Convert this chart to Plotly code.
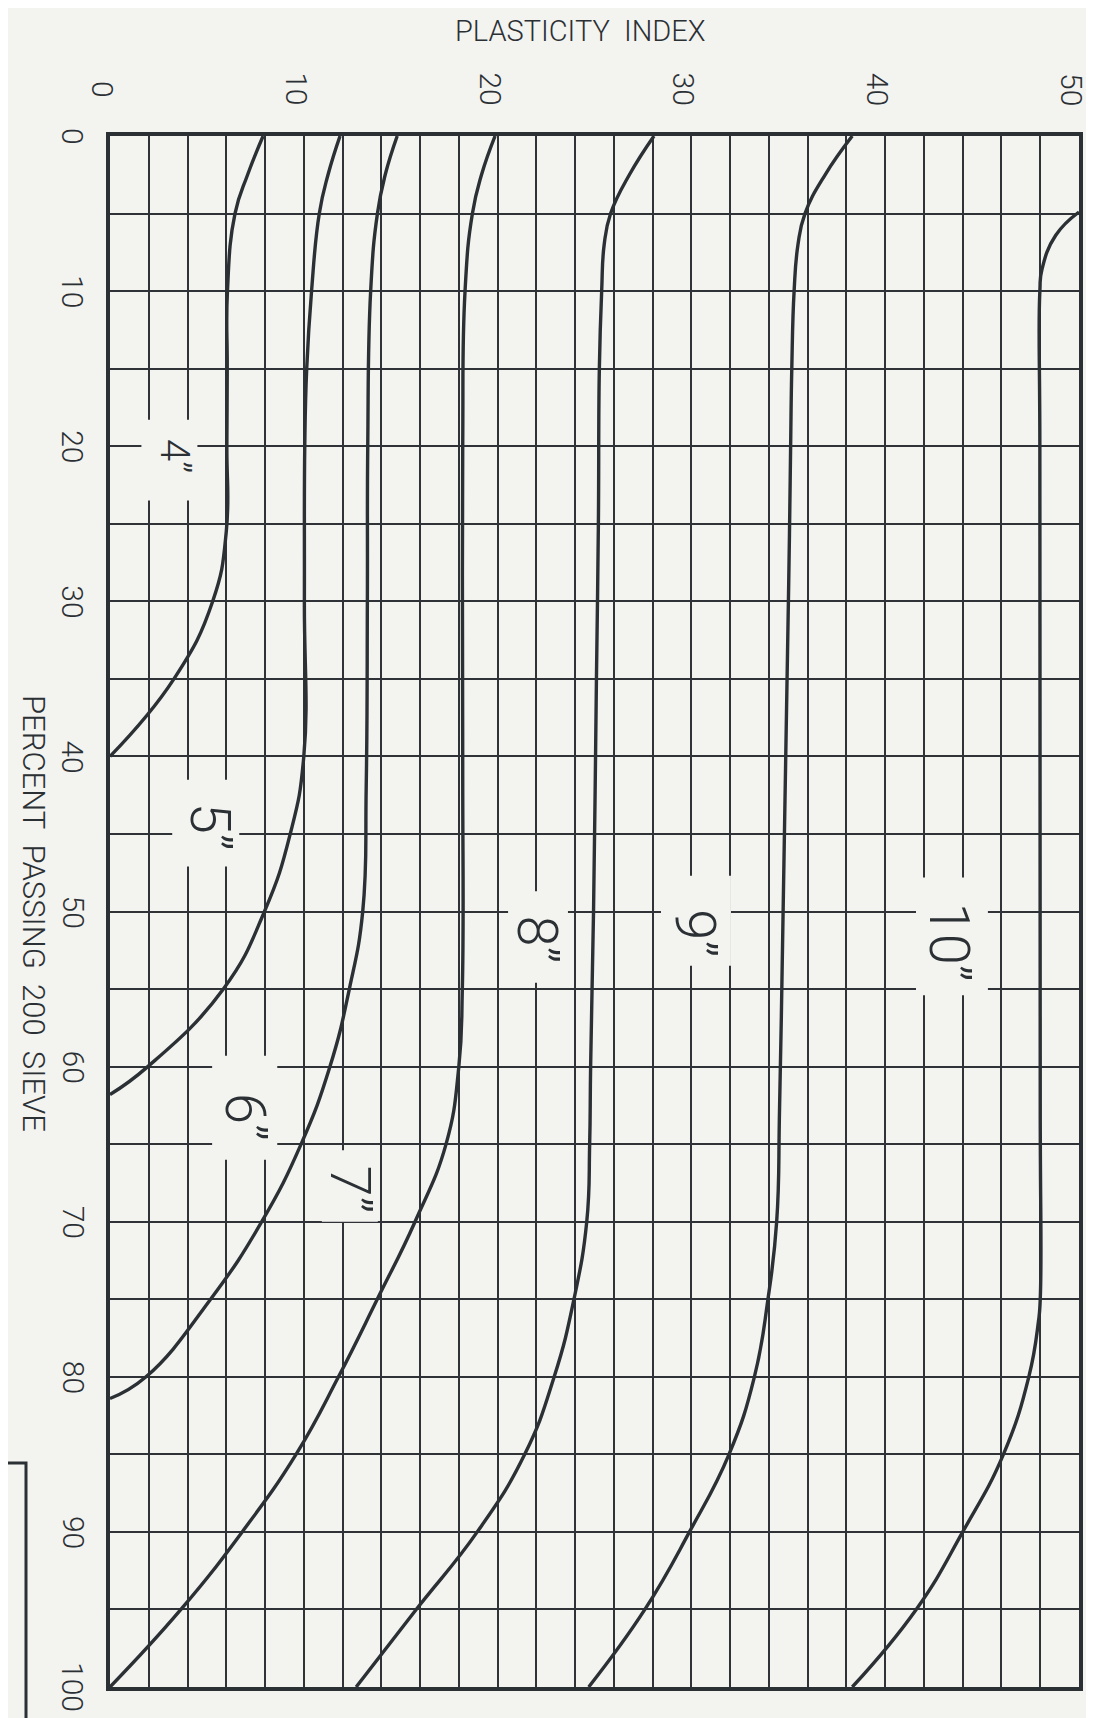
import plotly.graph_objects as go

# ---------------- data ----------------
pi_ticks = [0, 10, 20, 30, 40, 50]
passing_ticks = [0, 10, 20, 30, 40, 50, 60, 70, 80, 90, 100]

curve_labels = ['4”', '5”', '6”', '7”', '8”', '9”', '10”']

c4_pi = [7.9, 7.1, 6.45, 6.06, 6.05, 6.03, 6.0, 5.3, 3.3, 0.0]
c4_p  = [0.0, 2.5, 5.0, 10.0, 15.0, 20.0, 25.5, 30.0, 35.0, 40.0]

c5_pi = [11.87, 11.25, 10.8, 10.4, 10.15, 10.05, 10.03, 10.0, 9.3, 7.97, 5.85, 1.95, 0.0]
c5_p  = [0.0, 2.5, 5.0, 10.0, 15.0, 20.0, 30.0, 40.0, 45.0, 50.0, 55.0, 60.0, 61.8]

c6_pi = [14.82, 14.2, 13.8, 13.45, 13.3, 13.28, 13.22, 13.04, 12.35, 11.35, 9.86, 7.83, 5.19, 1.86, 0.0]
c6_p  = [0.0, 2.5, 5.0, 10.0, 20.0, 30.0, 42.0, 50.0, 55.0, 60.0, 65.0, 70.0, 75.0, 80.0, 81.4]

c7_pi = [19.87, 19.17, 18.7, 18.32, 18.2, 18.2, 18.18, 18.0, 17.34, 15.74, 13.79, 11.79, 9.6, 6.82, 3.66, 0.0]
c7_p  = [0.0, 2.5, 5.0, 10.0, 20.0, 40.0, 55.0, 60.0, 65.0, 70.0, 75.0, 80.0, 85.0, 90.0, 95.0, 100.0]

c8_pi = [28.07, 26.8, 25.83, 25.5, 25.37, 25.25, 25.2, 25.1, 24.95, 24.8, 24.75, 24.6, 23.94, 22.92, 21.4, 18.95, 15.8, 12.7]
c8_p  = [0.0, 2.5, 5.0, 7.0, 10.0, 15.0, 25.0, 35.0, 50.0, 60.0, 65.0, 70.0, 75.0, 80.0, 85.0, 90.0, 95.0, 100.0]

c9_pi = [38.3, 36.9, 35.86, 35.5, 35.3, 35.18, 35.12, 35.06, 34.8, 34.55, 34.4, 33.95, 33.25, 31.94, 29.9, 27.6, 24.7]
c9_p  = [0.0, 2.5, 5.0, 7.0, 10.0, 15.0, 20.0, 25.7, 45.0, 62.6, 70.0, 75.0, 80.0, 85.0, 90.0, 95.0, 100.0]

c10_pi = [50.0, 48.8, 48.09, 47.98, 47.98, 48.0, 48.0, 47.9, 47.41, 46.1, 44.0, 41.6, 38.3]
c10_p  = [4.9, 6.4, 8.6, 10.0, 20.0, 62.6, 75.0, 76.5, 80.0, 85.0, 90.0, 95.0, 100.0]

curves_pi = [c4_pi, c5_pi, c6_pi, c7_pi, c8_pi, c9_pi, c10_pi]
curves_p = [c4_p, c5_p, c6_p, c7_p, c8_p, c9_p, c10_p]

# label placement (PI, % passing) and blank box behind each label
label_pi = [3.33, 5.17, 6.97, 12.37, 22.03, 30.18, 43.34]
label_p = [20.6, 44.55, 63.25, 67.9, 51.8, 51.4, 52.0]
label_size = [40, 56, 56, 56, 56, 56, 56]
label_box = [  # (pi0, pi1, p0, p1)
    (1.62, 4.51, 18.3, 23.5),
    (3.21, 6.67, 41.5, 47.1),
    (5.27, 8.63, 59.3, 66.0),
    (10.93, 13.82, 65.4, 70.0),
    (20.54, 23.63, 48.7, 54.6),
    (28.43, 32.04, 47.7, 53.5),
    (41.59, 45.30, 47.8, 55.4),
]

# ---------------- styling ----------------
BG = "#f3f3ef"
INK = "#2b3035"
GRID = "#2f3338"
FONT = "Roboto"

W, H = 1094, 1718
ML, MR, MT, MB = 102, 23, 128, 39
PW, PH = W - ML - MR, H - MT - MB

fig = go.Figure()

for pis, ps, name in zip(curves_pi, curves_p, curve_labels):
    fig.add_trace(go.Scatter(
        x=pis, y=ps, mode="lines", name=name,
        line=dict(color=INK, width=3.4, shape="spline", smoothing=1.3),
        hoverinfo="skip", showlegend=False,
    ))

shapes = []
for (a, b, c, d) in label_box:
    shapes.append(dict(type="rect", xref="x", yref="y", x0=a, x1=b, y0=c, y1=d,
                       fillcolor=BG, line=dict(width=0), layer="above"))

# partially visible box at the lower-left edge of the sheet
shapes.append(dict(type="rect", xref="paper", yref="paper",
                   x0=-0.3, x1=(18 - ML) / PW,
                   y0=-0.1, y1=1 - (1455 - MT) / PH,
                   line=dict(color=INK, width=3), fillcolor="rgba(0,0,0,0)"))

annotations = []
for t in pi_ticks:
    annotations.append(dict(x=t, xref="x", y=1, yref="paper", yshift=47, xshift=-7,
                            text=str(t), showarrow=False, textangle=90,
                            xanchor="center", yanchor="middle",
                            font=dict(family=FONT, size=30, color=INK, weight=300)))
for t in passing_ticks:
    annotations.append(dict(x=0, xref="paper", xshift=-37, y=t, yref="y",
                            text=str(t), showarrow=False, textangle=90,
                            xanchor="center", yanchor="middle",
                            font=dict(family=FONT, size=30, color=INK, weight=300)))

for name, lx, ly, sz in zip(curve_labels, label_pi, label_p, label_size):
    annotations.append(dict(x=lx, y=ly, xref="x", yref="y", text=name,
                            showarrow=False, textangle=90,
                            xanchor="center", yanchor="middle",
                            font=dict(family=FONT, size=sz, color=INK, weight=300)))

annotations.append(dict(x=(572 - ML) / PW, xref="paper", y=1, yref="paper", yshift=105,
                        text="PLASTICITY&nbsp;&nbsp;INDEX", showarrow=False,
                        xanchor="center", yanchor="middle",
                        font=dict(family=FONT, size=29, color=INK, weight=300)))
annotations.append(dict(x=0, xref="paper", xshift=-(ML - 26), y=1 - (905 - MT) / PH, yref="paper",
                        text="PERCENT&nbsp; PASSING&nbsp; 200&nbsp; SIEVE", showarrow=False, textangle=90,
                        xanchor="center", yanchor="middle",
                        font=dict(family=FONT, size=31, color=INK, weight=300)))

axis_common = dict(showgrid=True, gridcolor=GRID, gridwidth=1.6, zeroline=False,
                   showline=True, mirror=True, linecolor=INK, linewidth=3.5,
                   showticklabels=False, ticks="", fixedrange=True)

fig.update_layout(
    width=W, height=H, autosize=False,
    margin=dict(l=ML, r=MR, t=MT, b=MB, pad=0),
    paper_bgcolor=BG, plot_bgcolor=BG,
    xaxis=dict(range=[0, 50], dtick=2, tick0=0, side="top", **axis_common),
    yaxis=dict(range=[100, 0], dtick=5, tick0=0, **axis_common),
    shapes=shapes, annotations=annotations,
    showlegend=False,
)

fig.write_html("out.html")
